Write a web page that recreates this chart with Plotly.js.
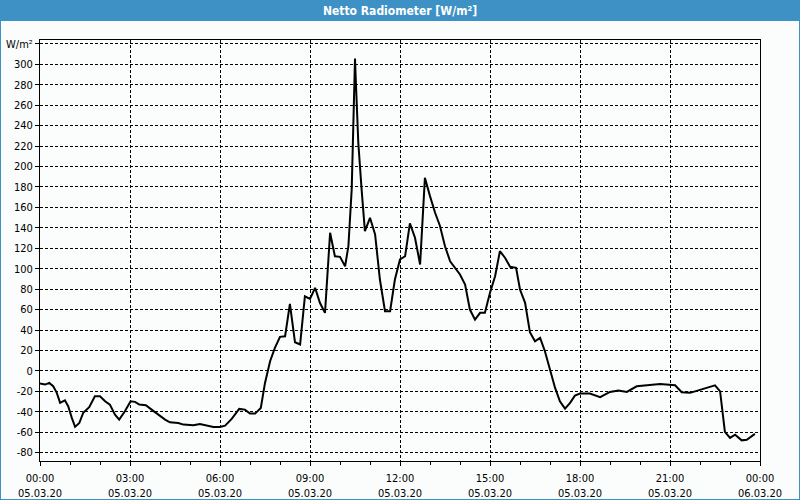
<!DOCTYPE html>
<html>
<head>
<meta charset="utf-8">
<script src="https://cdn.plot.ly/plotly-3.0.1.min.js"></script>
<style>
  html, body { margin: 0; padding: 0; background: #fbfdfc; }
  #wrap { position: relative; width: 800px; height: 500px; }
  #chart { position: absolute; left: 0; top: 0; width: 800px; height: 500px; }
  #frame { position: absolute; left: 0; top: 0; width: 800px; height: 500px; box-sizing: border-box; border: 1px solid #3d91c5; pointer-events: none; }
</style>
</head>
<body>
<div id="wrap"><div id="chart"></div><div id="frame"></div></div>
<script>
// Time in hours since 05.03.20 00:00
const hours = [0,0.17,0.31,0.44,0.56,0.67,0.83,0.94,1.06,1.17,
  1.31,1.44,1.64,1.83,2.0,2.17,2.33,2.5,2.64,2.83,
  3.02,3.17,3.31,3.53,3.72,3.94,4.17,4.33,4.61,4.78,
  5.11,5.33,5.56,5.78,6.0,6.17,6.39,6.64,6.83,7.0,
  7.17,7.36,7.5,7.67,7.83,8.0,8.17,8.33,8.5,8.67,
  8.83,9.0,9.17,9.33,9.5,9.67,9.83,10.0,10.17,10.28,
  10.39,10.47,10.5,10.53,10.61,10.72,10.83,11.0,11.17,11.33,
  11.5,11.67,11.83,12.0,12.17,12.33,12.5,12.67,12.83,13.0,
  13.17,13.33,13.5,13.67,13.83,14.0,14.17,14.33,14.5,14.67,
  14.83,15.0,15.17,15.33,15.5,15.67,15.87,16.0,16.17,16.33,
  16.5,16.67,16.83,17.0,17.17,17.33,17.5,17.67,17.83,18.0,
  18.33,18.67,19.0,19.28,19.56,19.89,20.33,20.67,21.17,21.39,
  21.67,22.0,22.22,22.5,22.67,22.76,22.83,23.0,23.17,23.39,
  23.56,23.83];
// Netto Radiometer values, W/m²
const netRadiation = [-12.4,-13.4,-11.8,-15,-21.5,-31.3,-28.8,-34.6,-46,-54.8,
  -51,-41,-35.5,-24.8,-24.8,-29.7,-33,-42.8,-47.7,-39.5,
  -29.7,-30.3,-33,-33.6,-37.9,-42.8,-47.7,-50.3,-51,-52.6,
  -53.2,-52,-53.6,-54.9,-54.9,-53.6,-47,-37.2,-37.9,-41.8,
  -41.8,-36.3,-11.8,9.4,22.5,33.3,33.9,65.6,28,25.8,
  73,70.5,81.3,66.6,56.8,135.1,112.2,111.6,102.4,122,
  177.6,255.9,305.6,282,223.3,177.6,136.7,149.8,133.5,89.4,
  58.4,58.4,89.4,109,112.2,144.3,130.3,104.1,188.9,171,
  154.7,142,122,107.3,100.9,94.3,84.5,60,50.2,56.8,
  56.8,76.4,92.6,117.1,110.7,101.9,100.9,79.6,66.6,37.8,
  29,32.3,19.2,1.3,-16.7,-29.8,-36.9,-31.3,-24.2,-22.2,
  -22.2,-25.8,-20.6,-19.3,-20.6,-15.1,-13.4,-12.8,-14.1,-20.9,
  -21.5,-18.3,-16.7,-14.1,-20,-41.2,-59.7,-65.6,-62.4,-68,
  -67.4,-61.7];

const xTickVals = [0,3,6,9,12,15,18,21,24];
const xTickTimes = ["00:00","03:00","06:00","09:00","12:00","15:00","18:00","21:00","00:00"];
const xTickDates = ["05.03.20","05.03.20","05.03.20","05.03.20","05.03.20","05.03.20","05.03.20","05.03.20","06.03.20"];
const yTickVals = [-80,-60,-40,-20,0,20,40,60,80,100,120,140,160,180,200,220,240,260,280,300,320];
const yTickText = ["-80","-60","-40","-20","0","20","40","60","80","100","120","140","160","180","200","220","240","260","280","300","W/m²"];
const titleText = "Netto Radiometer [W/m²]";

const FONT = '"DejaVu Sans Condensed", "Liberation Sans", sans-serif';
const BG = '#fbfdfc';
const BLUE = '#3d91c5';

const L = 40, R = 40, T = 40, B = 39, W = 800, H = 500;
const pw = W - L - R, ph = H - T - B;

const trace = {
  x: hours, y: netRadiation, type: 'scatter', mode: 'lines',
  line: { color: '#000000', width: 2 }, hoverinfo: 'x+y'
};

const layout = {
  width: W, height: H,
  margin: { l: L, r: R, t: T, b: B, pad: 0 },
  paper_bgcolor: BG, plot_bgcolor: BG,
  showlegend: false,
  font: { family: FONT, size: 11, color: '#000000' },
  title: {
    text: titleText,
    x: 0.5, xref: 'paper', xanchor: 'center',
    y: 1 - 10.5 / H, yref: 'container', yanchor: 'middle',
    font: { family: FONT, size: 12, color: '#ffffff', weight: 'bold' }
  },
  xaxis: {
    range: [0, 24], type: 'linear',
    tickmode: 'array', tickvals: xTickVals,
    ticktext: xTickVals.map((v, i) => xTickTimes[i] + '<br>' + xTickDates[i]),
    ticks: 'outside', ticklen: 4, tickcolor: '#000', tickwidth: 1,
    ticklabelstandoff: 3,
    showline: true, linecolor: '#000', linewidth: 1, mirror: true,
    showgrid: true, gridcolor: '#000', gridwidth: 1, griddash: '3px,2px',
    zeroline: false,
    tickfont: { family: FONT, size: 11, color: '#000' },
    minor: { tickmode: 'linear', tick0: 0, dtick: 1, ticks: 'outside', ticklen: 3, tickcolor: '#000', showgrid: false }
  },
  yaxis: {
    range: [-88.2, 323.8],
    tickmode: 'array', tickvals: yTickVals, ticktext: yTickText,
    ticks: 'outside', ticklen: 4, tickcolor: '#000', tickwidth: 1,
    showline: true, linecolor: '#000', linewidth: 1, mirror: true,
    showgrid: true, gridcolor: '#000', gridwidth: 1, griddash: '3px,2px',
    zeroline: false,
    tickfont: { family: FONT, size: 11, color: '#000' }
  },
  shapes: [{
    type: 'rect', xref: 'paper', yref: 'paper', layer: 'below',
    x0: -L / pw - 0.01, x1: 1 + R / pw + 0.01,
    y0: (H - B - 21) / ph, y1: (H - B) / ph + 0.02,
    fillcolor: BLUE, line: { width: 0 }
  }]
};

Plotly.newPlot('chart', [trace], layout, { displayModeBar: false, staticPlot: true });
</script>
</body>
</html>
